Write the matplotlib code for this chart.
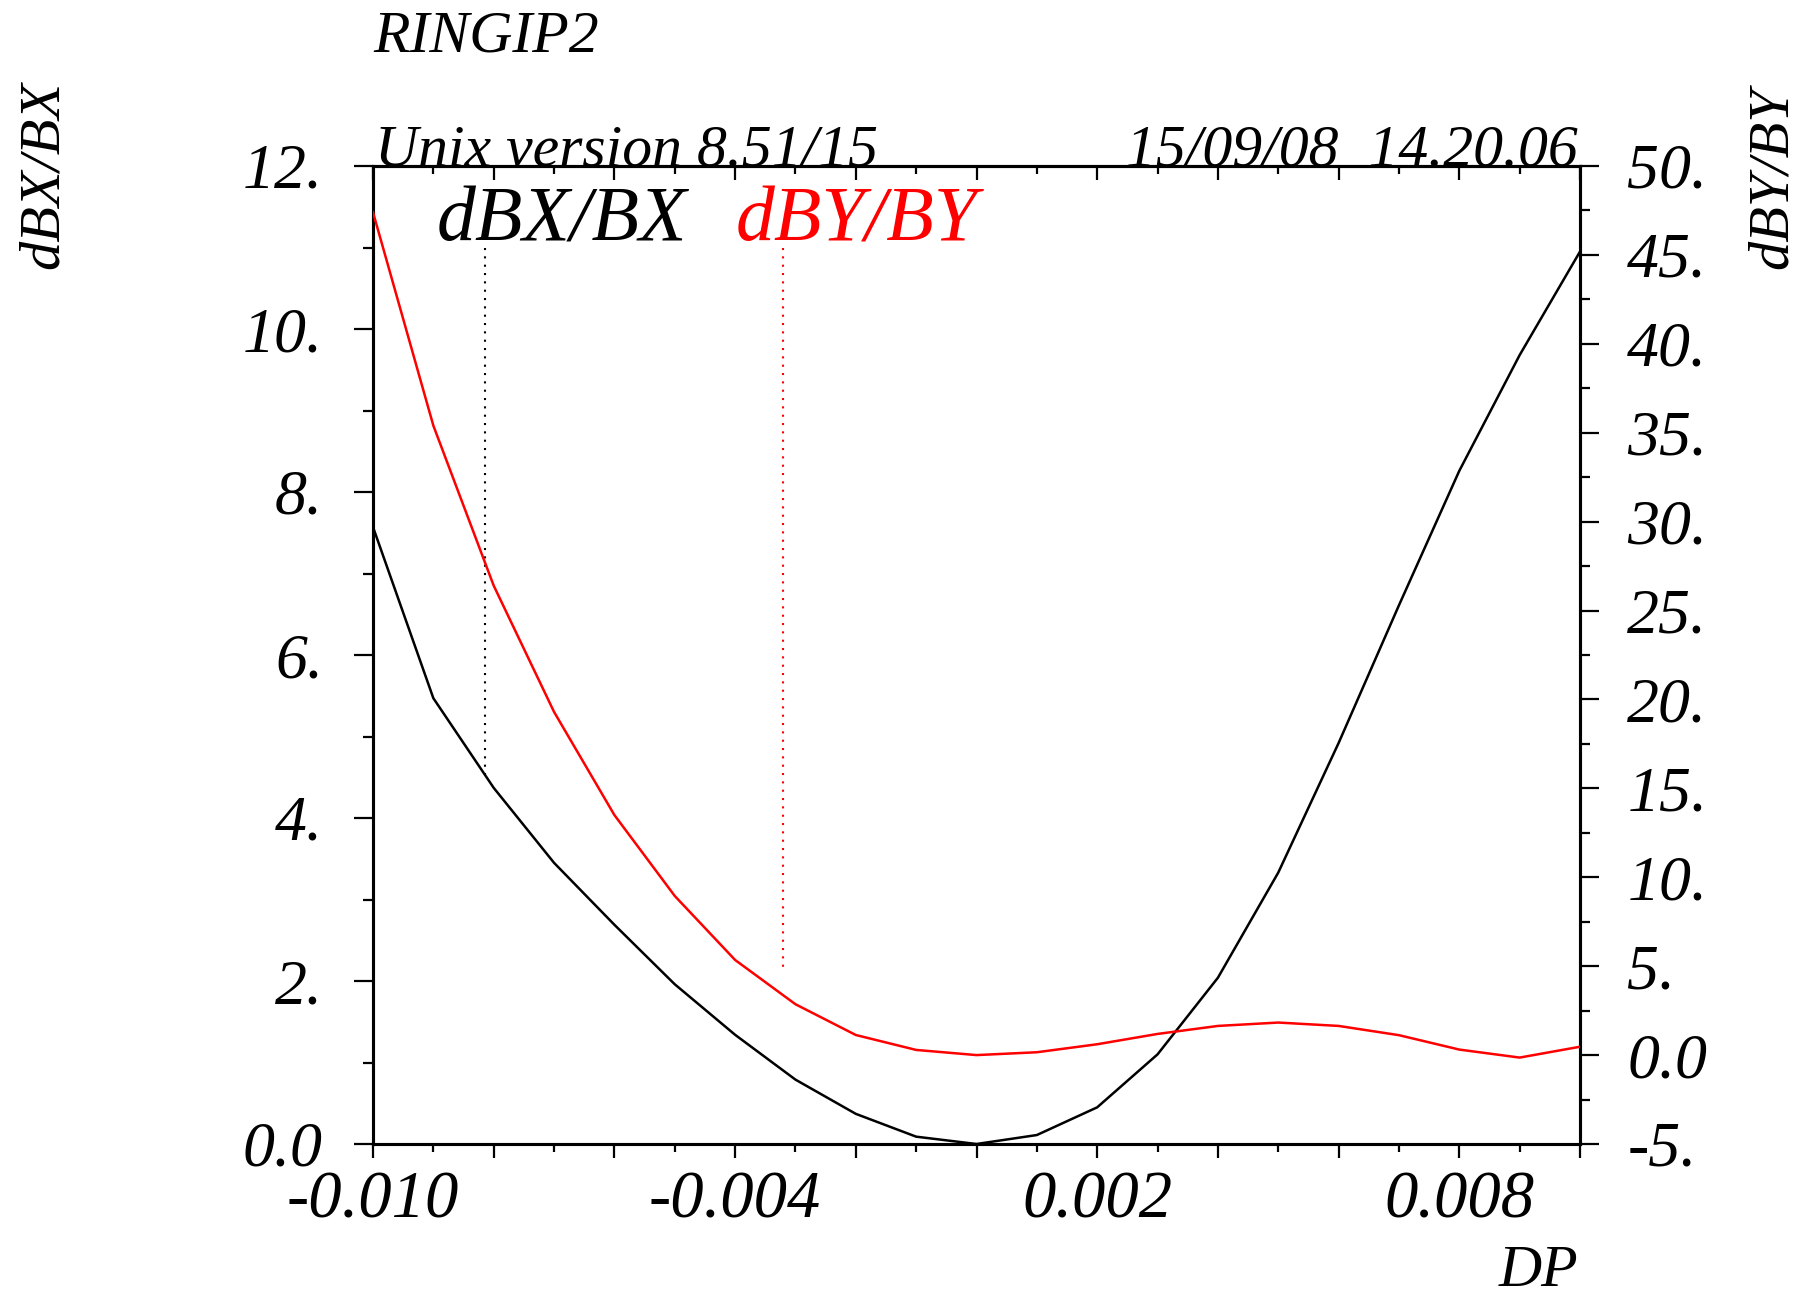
"""
Beta-beat vs momentum deviation (MAD style plot, RINGIP2).
"""

import matplotlib
matplotlib.use('Agg')
import matplotlib.pyplot as plt
from matplotlib.ticker import MultipleLocator, FixedLocator

# ============================================================
# Data
# ============================================================
dp = [-0.010, -0.009, -0.008, -0.007, -0.006, -0.005, -0.004, -0.003, -0.002, -0.001,
      0.000, 0.001, 0.002, 0.003, 0.004, 0.005, 0.006, 0.007, 0.008, 0.009, 0.010]
dbx_bx = [7.57, 5.47, 4.37, 3.45, 2.69, 1.96, 1.34, 0.79, 0.37, 0.09,
          0.00, 0.11, 0.45, 1.10, 2.04, 3.33, 4.92, 6.61, 8.26, 9.68, 10.95]
dby_by = [47.4, 35.4, 26.4, 19.3, 13.5, 8.95, 5.35, 2.86, 1.13, 0.29,
          0.00, 0.16, 0.61, 1.19, 1.64, 1.83, 1.64, 1.12, 0.31, -0.14, 0.47]

xtick_labels = {-0.010: '-0.010', -0.004: '-0.004', 0.002: '0.002', 0.008: '0.008'}
left_ticks = [0, 2, 4, 6, 8, 10, 12]
left_labels = ['0.0', '2.', '4.', '6.', '8.', '10.', '12.']
right_ticks = [-5, 0, 5, 10, 15, 20, 25, 30, 35, 40, 45, 50]
right_labels = ['-5.', '0.0', '5.', '10.', '15.', '20.', '25.', '30.', '35.', '40.', '45.', '50.']
# ============================================================

plt.rcParams['font.family'] = 'Liberation Serif'
plt.rcParams['font.style'] = 'italic'

W, H = 1800, 1299
fig = plt.figure(figsize=(W / 100, H / 100), dpi=100)
fig.patch.set_facecolor('white')

# axes box in pixel coords of the reference
L, R, T, B = 373, 1580, 166, 1144
ax = fig.add_axes([L / W, 1 - B / H, (R - L) / W, (B - T) / H])
ax2 = ax.twinx()

ax.plot(dp, dbx_bx, color='black', lw=1.8, zorder=3)
ax2.plot(dp, dby_by, color='red', lw=1.8, zorder=3)

ax.set_xlim(-0.010, 0.010)
ax.set_ylim(0, 12)
ax2.set_ylim(-5, 50)

# x axis: long ticks every 0.002, short every 0.001, labels every 0.006
major_x = [-0.010 + 0.002 * i for i in range(11)]
ax.xaxis.set_major_locator(FixedLocator(major_x))
ax.xaxis.set_minor_locator(MultipleLocator(0.001))
ax.set_xticklabels([next((v for k, v in xtick_labels.items() if abs(k - m) < 1e-9), '')
                    for m in major_x])
ax.tick_params(axis='x', which='major', direction='out', length=10, width=1.6,
               labelsize=48, pad=9)
ax.tick_params(axis='x', which='minor', direction='out', length=5.5, width=1.6)

# top axis ticks point inwards
top = ax.secondary_xaxis('top')
top.xaxis.set_major_locator(FixedLocator(major_x))
top.xaxis.set_minor_locator(MultipleLocator(0.001))
top.tick_params(axis='x', which='major', direction='in', length=10, width=1.6,
                labeltop=False)
top.tick_params(axis='x', which='minor', direction='in', length=5.5, width=1.6)
top.spines['top'].set_linewidth(2.2)

ax.set_yticks(left_ticks, labels=left_labels)
ax.yaxis.set_minor_locator(MultipleLocator(1))
ax.tick_params(axis='y', which='major', direction='out', length=14, width=1.6,
               labelsize=46, pad=22)
ax.tick_params(axis='y', which='minor', direction='out', length=7, width=1.6)

ax2.set_yticks(right_ticks, labels=right_labels)
ax2.yaxis.set_minor_locator(MultipleLocator(2.5))
ax2.tick_params(axis='y', which='major', direction='out', length=14, width=1.6,
                labelsize=46, pad=20)
ax2.tick_params(axis='y', which='minor', direction='out', length=7, width=1.6)

for a in (ax, ax2):
    for spine in a.spines.values():
        spine.set_linewidth(2.2)

# legend labels with dotted drop lines
fig.text(437 / W, 1 - 241 / H, 'dBX/BX', color='black', fontsize=56, va='baseline')
fig.text(736 / W, 1 - 241 / H, 'dBY/BY', color='red', fontsize=56, va='baseline')
ax.plot([-0.00814, -0.00814], [11.0, 4.5], color='black', lw=1.5, ls=(0, (1, 3)))
ax2.plot([-0.00321, -0.00321], [45.4, 4.6], color='red', lw=1.5, ls=(0, (1, 3)))

# header texts
fig.text(373 / W, 1 - 52 / H, 'RINGIP2', fontsize=43, va='baseline')
fig.text(375 / W, 1 - 166 / H, 'Unix version 8.51/15', fontsize=43, va='baseline')
fig.text(1578 / W, 1 - 166 / H, '15/09/08  14.20.06', fontsize=43, va='baseline', ha='right')

# axis titles
fig.text(44 / W, 1 - 175 / H, 'dBX/BX', fontsize=42, rotation=90, ha='center', va='center')
fig.text(1773 / W, 1 - 178 / H, 'dBY/BY', fontsize=42, rotation=90, ha='center', va='center')
fig.text(1578 / W, 1 - 1286 / H, 'DP', fontsize=43, ha='right', va='baseline')

fig.savefig('out.png', dpi=100, facecolor='white')
